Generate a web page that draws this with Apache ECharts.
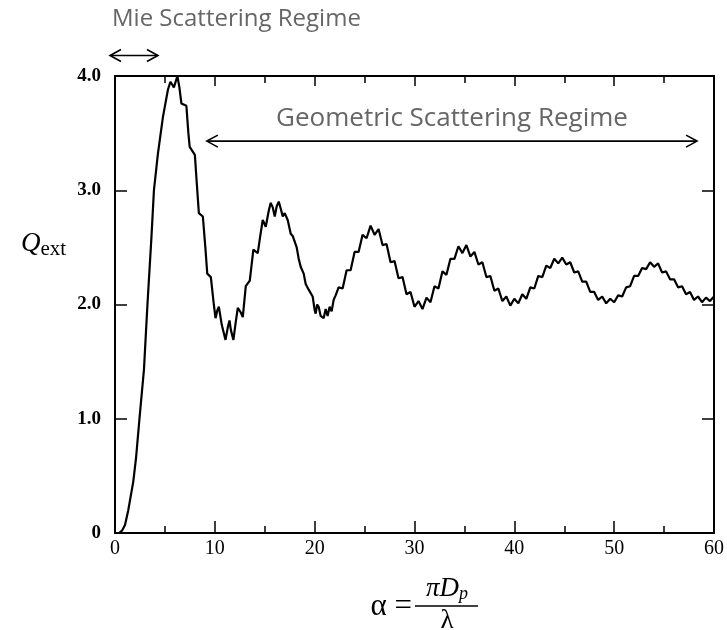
<!DOCTYPE html>
<html>
<head>
<meta charset="utf-8">
<script src="https://cdn.jsdelivr.net/npm/echarts@6/dist/echarts.min.js"></script>
<style>
html,body{margin:0;padding:0;background:#fff;}
#chart{width:727px;height:630px;}
</style>
</head>
<body>
<div id="chart"></div>
<script>
// ---- data ----
var alphaRise = [0.4, 0.7, 1.0, 1.33, 1.83, 2.1, 2.45, 2.9, 3.25, 3.65, 3.9, 4.3, 4.8, 5.3, 5.55, 5.9, 6.25, 6.45, 6.65, 7.15, 7.35, 7.48, 8.0, 8.2, 8.4, 8.8, 9.05, 9.24, 9.6, 9.9, 10.07, 10.25, 10.4, 10.7, 11.07, 11.3, 11.47, 11.6, 11.86, 12.1, 12.3, 12.6, 12.8, 13.1, 13.5, 13.86, 14.3, 14.55, 14.8, 15.1, 15.4, 15.6, 15.8, 16.0, 16.2, 16.4, 16.6, 16.8, 17.0, 17.3, 17.6, 17.8, 18.0, 18.2, 18.4, 18.6, 18.9, 19.1, 19.4, 19.6, 19.8, 20.0, 20.1, 20.25, 20.4, 20.6, 20.9, 21.1, 21.3, 21.5, 21.7, 21.9, 22.1];
var qextRise  = [0.0, 0.02, 0.07, 0.2, 0.45, 0.65, 1.0, 1.43, 2.0, 2.59, 3.0, 3.32, 3.64, 3.88, 3.95, 3.9, 4.0, 3.9, 3.76, 3.74, 3.5, 3.38, 3.31, 3.05, 2.8, 2.77, 2.5, 2.27, 2.24, 2.0, 1.88, 1.95, 1.98, 1.82, 1.69, 1.8, 1.86, 1.78, 1.69, 1.85, 1.97, 1.93, 1.89, 2.16, 2.21, 2.48, 2.45, 2.6, 2.74, 2.68, 2.82, 2.89, 2.85, 2.77, 2.86, 2.9, 2.84, 2.77, 2.8, 2.74, 2.62, 2.6, 2.55, 2.5, 2.4, 2.33, 2.27, 2.18, 2.13, 2.1, 2.07, 1.95, 1.92, 2.0, 1.98, 1.9, 1.88, 1.96, 1.9, 1.98, 1.94, 2.04, 2.08];
var alphaTail = [22.4, 22.8, 23.2, 23.6, 24.0, 24.4, 24.8, 25.2, 25.6, 26.0, 26.4, 26.8, 27.2, 27.6, 28.0, 28.4, 28.8, 29.2, 29.6, 30.0, 30.4, 30.8, 31.2, 31.6, 32.0, 32.4, 32.8, 33.2, 33.6, 34.0, 34.4, 34.8, 35.2, 35.6, 36.0, 36.4, 36.8, 37.2, 37.6, 38.0, 38.4, 38.8, 39.2, 39.6, 40.0, 40.4, 40.8, 41.2, 41.6, 42.0, 42.4, 42.8, 43.2, 43.6, 44.0, 44.4, 44.8, 45.2, 45.6, 46.0, 46.4, 46.8, 47.2, 47.6, 48.0, 48.4, 48.8, 49.2, 49.6, 50.0, 50.4, 50.8, 51.2, 51.6, 52.0, 52.4, 52.8, 53.2, 53.6, 54.0, 54.4, 54.8, 55.2, 55.6, 56.0, 56.4, 56.8, 57.2, 57.6, 58.0, 58.4, 58.8, 59.2, 59.6, 60.0];
var qextTail  = [2.15, 2.14, 2.30, 2.30, 2.46, 2.46, 2.61, 2.58, 2.69, 2.61, 2.66, 2.52, 2.53, 2.37, 2.38, 2.23, 2.24, 2.09, 2.11, 1.98, 2.03, 1.96, 2.06, 2.02, 2.16, 2.14, 2.29, 2.26, 2.40, 2.40, 2.51, 2.45, 2.52, 2.42, 2.46, 2.35, 2.37, 2.24, 2.25, 2.12, 2.14, 2.03, 2.07, 1.99, 2.05, 2.01, 2.09, 2.05, 2.15, 2.14, 2.25, 2.24, 2.34, 2.32, 2.40, 2.36, 2.41, 2.35, 2.37, 2.28, 2.29, 2.20, 2.20, 2.11, 2.11, 2.04, 2.07, 2.01, 2.05, 2.02, 2.08, 2.07, 2.15, 2.16, 2.25, 2.25, 2.32, 2.31, 2.37, 2.33, 2.36, 2.28, 2.29, 2.22, 2.22, 2.15, 2.16, 2.09, 2.11, 2.04, 2.07, 2.02, 2.06, 2.03, 2.07];
var xTicks = [0, 10, 20, 30, 40, 50, 60];
var yTicks = [0, 1.0, 2.0, 3.0, 4.0];
var mieLabel = 'Mie Scattering Regime';
var geoLabel = 'Geometric Scattering Regime';
var mieSpan = [-0.5, 4.3, 4.18];     // alpha from, alpha to, Q level
var geoSpan = [9.2, 58.3, 3.43];

var curve = [];
alphaRise.forEach(function (a, i) { curve.push([a, qextRise[i]]); });
alphaTail.forEach(function (a, i) { curve.push([a, qextTail[i]]); });

var chart = echarts.init(document.getElementById('chart'), null, {renderer: 'canvas'});
var serif = '"Liberation Serif", "DejaVu Serif", serif';
var axisLine = {show: true, onZero: false, lineStyle: {color: '#000', width: 2}};

chart.setOption({
  animation: false,
  backgroundColor: '#fff',
  grid: {left: 115, right: 10, top: 76, bottom: 97, containLabel: false},
  xAxis: [{
    type: 'value', min: 0, max: 60, interval: 10, position: 'bottom',
    axisLine: axisLine,
    axisTick: {show: true, inside: true, length: 12, lineStyle: {color: '#000', width: 1.5}},
    minorTick: {show: true, splitNumber: 2, length: 7, lineStyle: {color: '#000', width: 1.5}},
    splitLine: {show: false},
    axisLabel: {color: '#000', fontFamily: serif, fontSize: 20, margin: 6,
      formatter: function (v) { return xTicks.indexOf(v) >= 0 ? String(v) : ''; }}
  }, {
    type: 'value', min: 0, max: 60, interval: 10, position: 'top',
    axisLine: axisLine,
    axisTick: {show: true, inside: true, length: 10, lineStyle: {color: '#000', width: 1.5}},
    minorTick: {show: true, splitNumber: 2, length: 7, lineStyle: {color: '#000', width: 1.5}},
    splitLine: {show: false}, axisLabel: {show: false}
  }],
  yAxis: [{
    type: 'value', min: 0, max: 4, interval: 1, position: 'left',
    axisLine: axisLine,
    axisTick: {show: true, inside: true, length: 12, lineStyle: {color: '#000', width: 1.5}},
    splitLine: {show: false},
    axisLabel: {color: '#000', fontFamily: serif, fontSize: 19, fontWeight: 'bold', margin: 14,
      formatter: function (v) { return v === 0 ? '0' : v.toFixed(1); }}
  }, {
    type: 'value', min: 0, max: 4, interval: 1, position: 'right',
    axisLine: axisLine,
    axisTick: {show: true, inside: true, length: 12, lineStyle: {color: '#000', width: 1.5}},
    splitLine: {show: false}, axisLabel: {show: false}
  }],
  series: [{
    type: 'line', data: curve, xAxisIndex: 0, yAxisIndex: 0,
    showSymbol: false, symbol: 'none', smooth: false,
    lineStyle: {color: '#000', width: 2.2}
  }]
});

function px(a, q) { return chart.convertToPixel({xAxisIndex: 0, yAxisIndex: 0}, [a, q]); }
function arrow(span) {
  var p1 = px(span[0], span[2]), p2 = px(span[1], span[2]);
  var y = p1[1], h = 6, w = 11;
  var st = {stroke: '#000', lineWidth: 1.6, fill: null};
  return [
    {type: 'polyline', shape: {points: [[p1[0], y], [p2[0], y]]}, style: st},
    {type: 'polyline', shape: {points: [[p1[0] + w, y - h], [p1[0], y], [p1[0] + w, y + h]]}, style: st},
    {type: 'polyline', shape: {points: [[p2[0] - w, y - h], [p2[0], y], [p2[0] - w, y + h]]}, style: st}
  ];
}

var g = [];
g = g.concat(arrow(mieSpan), arrow(geoSpan));
g.push({type: 'text', x: 112, y: 7, style: {text: mieLabel, fill: '#666', font: '24px "Open Sans", sans-serif'}});
g.push({type: 'text', x: 452, y: 119, style: {text: geoLabel, fill: '#666', font: '26px "Open Sans", sans-serif', align: 'center', verticalAlign: 'middle'}});
// y axis title: Q_ext
g.push({type: 'text', x: 21, y: 244, style: {text: '{q|Q}{s|ext}', verticalAlign: 'middle',
  rich: {q: {fontFamily: serif, fontStyle: 'italic', fontSize: 27, fill: '#000'},
         s: {fontFamily: serif, fontSize: 21, fill: '#000', padding: [11, 0, 0, 0]}}}});
// x axis title: alpha = pi D_p / lambda
g.push({type: 'text', x: 412, y: 607, style: {text: 'α =', font: '31px ' + serif, fill: '#000', align: 'right', verticalAlign: 'middle'}});
g.push({type: 'line', shape: {x1: 415, y1: 606, x2: 478, y2: 606}, style: {stroke: '#000', lineWidth: 1.6}});
g.push({type: 'text', x: 447, y: 589, style: {text: '{a|πD}{b|p}', align: 'center', verticalAlign: 'middle',
  rich: {a: {fontFamily: serif, fontStyle: 'italic', fontSize: 27, fill: '#000'},
         b: {fontFamily: serif, fontStyle: 'italic', fontSize: 18, fill: '#000', padding: [10, 0, 0, 0]}}}});
g.push({type: 'text', x: 447, y: 621, style: {text: 'λ', font: '27px ' + serif, fill: '#000', align: 'center', verticalAlign: 'middle'}});

chart.setOption({graphic: g});
</script>
</body>
</html>
